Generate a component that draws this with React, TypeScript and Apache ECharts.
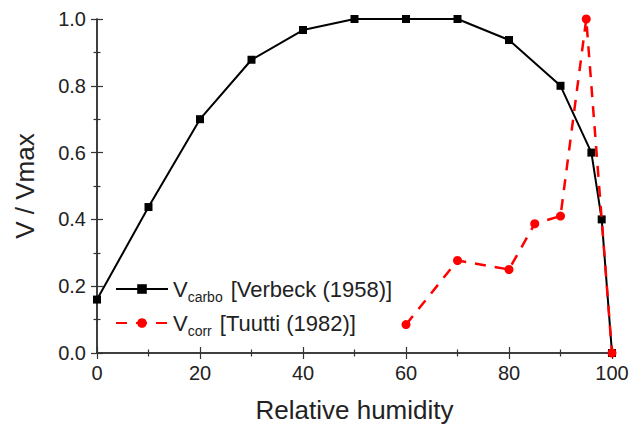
import React, { useEffect, useRef } from "react";
import * as echarts from "echarts";

const carboX = [0, 10, 20, 30, 40, 50, 60, 70, 80, 90, 96, 98, 100];
const carboY = [0.16, 0.437, 0.70, 0.878, 0.967, 1.0, 1.0, 1.0, 0.937, 0.80, 0.60, 0.40, 0.0];
const corrX = [60, 70, 80, 85, 90, 95, 100];
const corrY = [0.085, 0.277, 0.25, 0.387, 0.41, 1.0, 0.0];

const FONT = "Liberation Sans, Arial, sans-serif";
const TXT = "#222";

export default function App() {
  const ref = useRef<HTMLDivElement>(null);
  useEffect(() => {
    const chart = echarts.init(ref.current!, null, { renderer: "svg" });
    const tickCommon = {
      axisLine: { show: true, lineStyle: { color: "#333", width: 1.5 } },
      axisTick: { show: true, inside: true, length: 6, lineStyle: { color: "#333", width: 1.2 } },
      minorTick: { show: true, splitNumber: 2, length: 3.5, lineStyle: { color: "#333", width: 1.2 } },
      splitLine: { show: false },
      minorSplitLine: { show: false },
    };
    chart.setOption({
      animation: false,
      textStyle: { fontFamily: FONT },
      grid: { left: 97, right: 17, top: 19, bottom: 77, outerBoundsMode: "none", containLabel: false },
      legend: {
        orient: "vertical",
        left: 115,
        top: 278,
        padding: 0,
        itemWidth: 52,
        itemHeight: 12,
        itemGap: 8,
        data: ["carbo", "corr"],
        formatter: (name: string) =>
          name === "carbo"
            ? "{v|V}{s|carbo}{t|[Verbeck (1958)]}"
            : "{v|V}{s|corr}{t|[Tuutti (1982)]}",
        textStyle: {
          fontFamily: FONT,
          color: TXT,
          rich: {
            v: { fontSize: 22, color: TXT, fontFamily: FONT, lineHeight: 30, verticalAlign: "middle" },
            s: { fontSize: 14, color: TXT, fontFamily: FONT, lineHeight: 30, verticalAlign: "bottom", padding: [12, 8, 0, 0] },
            t: { fontSize: 22, color: TXT, fontFamily: FONT, lineHeight: 30, verticalAlign: "middle" },
          },
        },
      },
      xAxis: [
        {
          type: "value",
          min: 0,
          max: 100,
          interval: 20,
          name: "Relative humidity",
          nameLocation: "middle",
          nameGap: 44,
          nameTextStyle: { fontSize: 26, color: TXT, fontFamily: FONT },
          axisLabel: { fontSize: 20, color: TXT, fontFamily: FONT, margin: 10 },
          ...tickCommon,
        },
        {
          type: "value",
          position: "top",
          min: 0,
          max: 100,
          interval: 20,
          axisLabel: { show: false },
          ...tickCommon,
        },
      ],
      yAxis: [
        {
          type: "value",
          min: 0,
          max: 1,
          interval: 0.2,
          name: "V / Vmax",
          nameLocation: "middle",
          nameGap: 59,
          nameTextStyle: { fontSize: 26, color: TXT, fontFamily: FONT },
          axisLabel: {
            fontSize: 20,
            color: TXT,
            fontFamily: FONT,
            margin: 11,
            formatter: (v: number) => v.toFixed(1),
          },
          ...tickCommon,
        },
        {
          type: "value",
          position: "right",
          min: 0,
          max: 1,
          interval: 0.2,
          axisLabel: { show: false },
          ...tickCommon,
        },
      ],
      series: [
        {
          name: "carbo",
          type: "line",
          data: carboX.map((x, i) => [x, carboY[i]]),
          symbol: "rect",
          symbolSize: 8,
          clip: false,
          itemStyle: { color: "#000" },
          lineStyle: { color: "#000", width: 2 },
          z: 2,
        },
        {
          name: "corr",
          type: "line",
          data: corrX.map((x, i) => [x, corrY[i]]),
          symbol: "circle",
          symbolSize: 9,
          clip: false,
          itemStyle: { color: "#ff0000" },
          lineStyle: { color: "#ff0000", width: 2.5, type: [11, 9] },
          z: 3,
        },
      ],
    });
    return () => chart.dispose();
  }, []);
  return (
    <div
      ref={ref}
      style={{ position: "absolute", left: 0, top: 0, width: 629, height: 430 }}
    />
  );
}
